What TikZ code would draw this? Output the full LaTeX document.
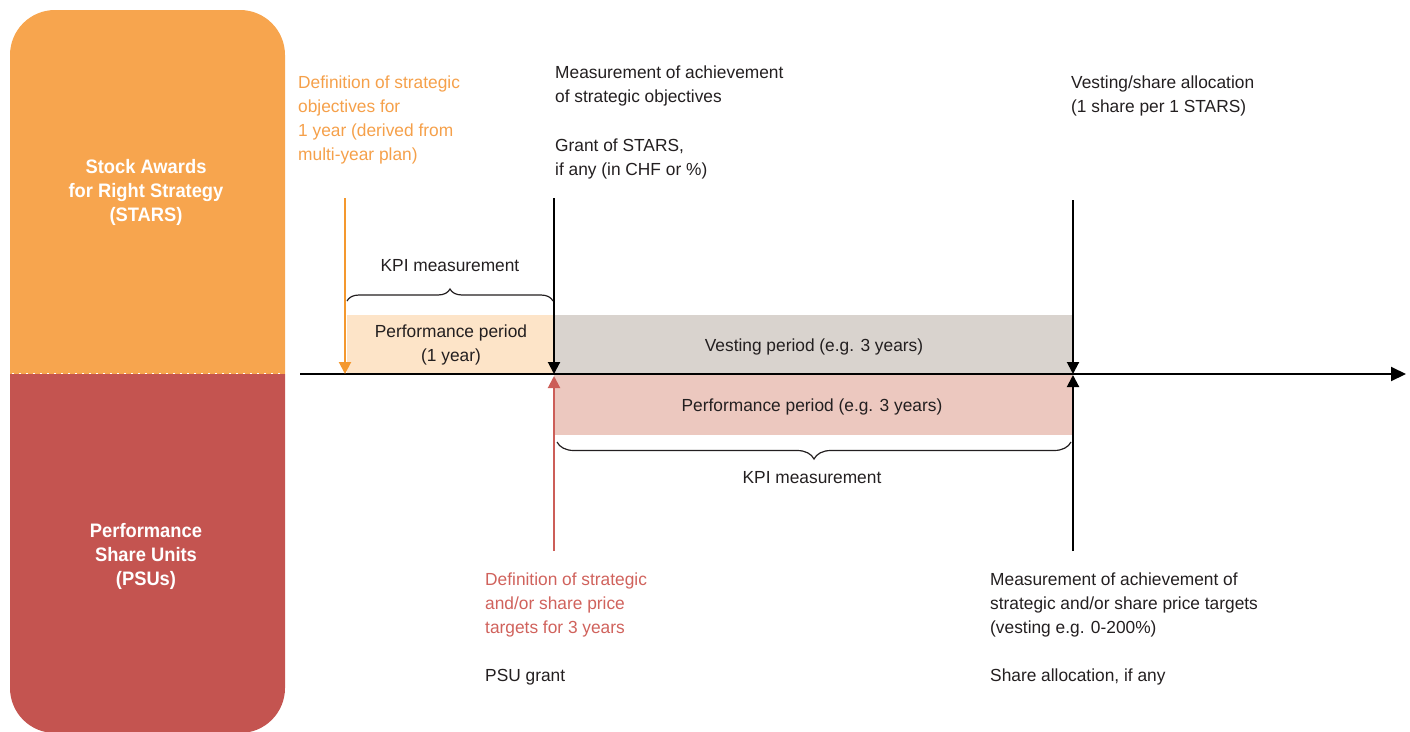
\documentclass[tikz,border=0pt]{standalone}
\usepackage{fontspec}
\setmainfont{Liberation Sans}[FakeStretch=0.99]
\newfontfamily\headfont{Liberation Sans}[FakeStretch=0.94]
\usetikzlibrary{arrows.meta,decorations.pathreplacing}
\definecolor{panelor}{HTML}{F7A54E}
\definecolor{panelred}{HTML}{C45450}
\definecolor{orline}{HTML}{F4982E}
\definecolor{ortext}{HTML}{F5A04A}
\definecolor{redline}{HTML}{CC5E58}
\definecolor{redtext}{HTML}{D0625C}
\definecolor{txt}{HTML}{231F20}
\definecolor{lightor}{HTML}{FDE4C8}
\definecolor{greyband}{HTML}{D9D3CE}
\definecolor{pinkband}{HTML}{ECC8BF}
\begin{document}
\begin{tikzpicture}[x=1pt,y=-1pt,
  lbl/.style={font=\fontsize{17.5}{24}\selectfont, text=txt, inner sep=0pt, align=left, anchor=north west},
  clbl/.style={font=\fontsize{17.5}{24}\selectfont, text=txt, inner sep=0pt, align=center},
  paneltext/.style={font=\headfont\bfseries\fontsize{19.5}{24}\selectfont, text=white, inner sep=0pt, align=center},
  vline/.style={line width=2pt, -{Triangle[length=12pt,width=12pt]}},
  axisline/.style={line width=2pt, -{Triangle[length=15pt,width=14pt]}},
  bracestyle/.style={draw=txt, line width=1.2pt, decorate}
]
\useasboundingbox (0,0) rectangle (1410,731);
% left panel
\begin{scope}
  \clip[rounded corners=45pt] (10,10) rectangle (285,733);
  \fill[panelor] (9,9) rectangle (286,373.5);
  \fill[panelred] (9,373.5) rectangle (286,734);
\end{scope}
\draw[white, line width=1.6pt, dash pattern=on 1.6pt off 5.4pt] (12,373.5) -- (285,373.5);
\node[paneltext] (stars) at (146,192) {Stock Awards\\for Right Strategy\\(STARS)};
\node[paneltext] (psus) at (146,556) {Performance\\Share Units\\(PSUs)};
% bands
\fill[lightor] (347,315) rectangle (554,374);
\fill[greyband] (554,315) rectangle (1073,374);
\fill[pinkband] (554,374) rectangle (1073,435);
\node[clbl] (pp1) at (451,345) {Performance period\\(1 year)};
\node[clbl] (vp) at (814,347) {Vesting period (e.g. 3 years)};
\node[clbl] (pp3) at (812,407) {Performance period (e.g. 3 years)};
% axis
\coordinate (axs) at (300,374);
\coordinate (axe) at (1406,374);
\draw[axisline] (axs) -- (axe);
% vertical arrows
\coordinate (oT) at (345,198);
\coordinate (oB) at (345,374);
\coordinate (gT) at (554,198);
\coordinate (gB) at (554,374);
\coordinate (rB) at (554,551);
\coordinate (rT) at (554,376);
\coordinate (vT) at (1073,200);
\coordinate (vM) at (1073,374);
\coordinate (vB) at (1073,551);
\coordinate (vM2) at (1073,375);
\draw[vline, orline] (oT) -- (oB);
\draw[vline, black] (gT) -- (gB);
\draw[vline, redline] (rB) -- (rT);
\draw[vline, black] (vT) -- (vM);
\draw[vline, black] (vB) -- (vM2);
% braces
\coordinate (b1s) at (347,301);
\coordinate (b1e) at (553,301);
\draw[bracestyle, decoration={brace, amplitude=12pt}] (b1s) -- (b1e);
\node[clbl] (kpi1) at (450,266) {KPI measurement};
\coordinate (b2s) at (557,442);
\coordinate (b2e) at (1071,442);
\draw[bracestyle, decoration={brace, amplitude=17pt}] (b2e) -- (b2s);
\node[clbl] (kpi2) at (812,478) {KPI measurement};
% texts top
\node[lbl, text=ortext] (defo) at (298,76) {Definition of strategic\\objectives for\\1 year (derived from\\multi-year plan)};
\node[lbl] (meas1) at (555,66) {Measurement of achievement\\of strategic objectives};
\node[lbl] (grant) at (555,139) {Grant of STARS,\\if any (in CHF or \%)};
\node[lbl] (vest) at (1071,76) {Vesting/share allocation\\(1 share per 1 STARS)};
% texts bottom
\node[lbl, text=redtext] (defr) at (485,573) {Definition of strategic\\and/or share price\\targets for 3 years};
\node[lbl] (psug) at (485,669) {PSU grant};
\node[lbl] (meas2) at (990,573) {Measurement of achievement of\\strategic and/or share price targets\\(vesting e.g. 0-200\%)};
\node[lbl] (shal) at (990,669) {Share allocation, if any};
\end{tikzpicture}
\end{document}
